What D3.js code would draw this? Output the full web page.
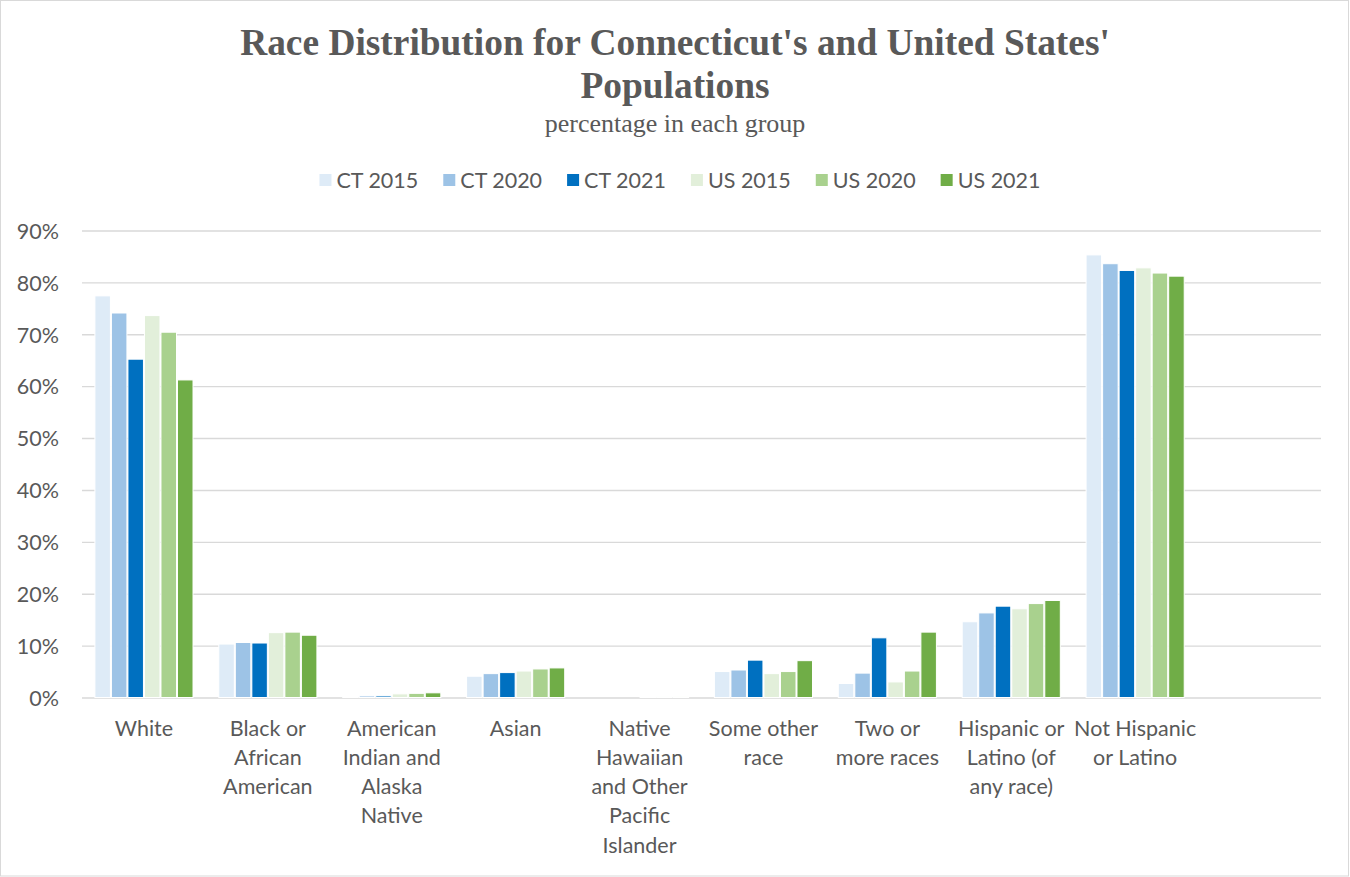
<!DOCTYPE html>
<html>
<head>
<meta charset="utf-8">
<script src="https://cdn.jsdelivr.net/npm/d3@7"></script>
<style>
  html, body { margin: 0; padding: 0; background: #fff; }
  svg { display: block; }
</style>
</head>
<body>
<svg id="chart" width="1350" height="877"></svg>
<script>
// Race groups (line breaks mark how each axis label wraps); last slot is an empty category
const categories = [
  "White",
  "Black or\nAfrican\nAmerican",
  "American\nIndian and\nAlaska\nNative",
  "Asian",
  "Native\nHawaiian\nand Other\nPacific\nIslander",
  "Some other\nrace",
  "Two or\nmore races",
  "Hispanic or\nLatino (of\nany race)",
  "Not Hispanic\nor Latino",
  ""
];

const seriesNames = ["CT 2015", "CT 2020", "CT 2021", "US 2015", "US 2020", "US 2021"];
const seriesColors = ["#DEEBF7", "#9DC3E6", "#0070C0", "#E2EFDA", "#A9D18E", "#70AD47"];

// Percent of population, one array per series, in category order
const ct2015 = [77.4, 10.3, 0.2, 4.1, 0.0, 5.0, 2.7, 14.6, 85.3, null];
const ct2020 = [74.1, 10.6, 0.3, 4.6, 0.0, 5.3, 4.7, 16.3, 83.6, null];
const ct2021 = [65.2, 10.5, 0.3, 4.8, 0.0, 7.2, 11.5, 17.6, 82.3, null];
const us2015 = [73.6, 12.5, 0.7, 5.1, 0.1, 4.6, 3.0, 17.1, 82.8, null];
const us2020 = [70.4, 12.6, 0.8, 5.5, 0.1, 5.0, 5.1, 18.1, 81.8, null];
const us2021 = [61.2, 12.0, 0.9, 5.7, 0.1, 7.1, 12.6, 18.7, 81.2, null];
const seriesValues = [ct2015, ct2020, ct2021, us2015, us2020, us2021];

const yTicks = [0, 10, 20, 30, 40, 50, 60, 70, 80, 90];

const titleLines = ["Race Distribution for Connecticut's and United States'", "Populations"];
const subtitle = "percentage in each group";

const W = 1350, H = 877;
const plot = { left: 82, right: 1321, top: 230.5, bottom: 697.5 };
const textColor = "#595959";
const sansFont = "Lato, 'Open Sans', sans-serif";
const serifFont = "'Liberation Serif', 'DejaVu Serif', serif";

const svg = d3.select("#chart");

// outer frame
svg.append("rect")
  .attr("x", 0.5).attr("y", 0.5)
  .attr("width", W - 2).attr("height", H - 1.5)
  .attr("fill", "#fff").attr("stroke", "#d9d9d9").attr("stroke-width", 1);

// titles
const title = svg.append("text")
  .attr("text-anchor", "middle")
  .attr("font-family", serifFont)
  .attr("font-weight", "bold")
  .attr("font-size", 37.4)
  .attr("fill", textColor);
titleLines.forEach((t, i) => {
  title.append("tspan").attr("x", 675).attr("y", 55 + i * 43).text(t);
});
svg.append("text")
  .attr("x", 675).attr("y", 132)
  .attr("text-anchor", "middle")
  .attr("font-family", serifFont)
  .attr("font-size", 26)
  .attr("fill", textColor)
  .text(subtitle);

// scales
const x = d3.scaleBand().domain(d3.range(categories.length))
  .range([plot.left, plot.right]).padding(0);
const barW = x.bandwidth() / 7.5;
const xs = d3.scaleBand().domain(d3.range(seriesNames.length))
  .range([barW * 0.75, x.bandwidth() - barW * 0.75]).padding(0);
const y = d3.scaleLinear().domain([0, 90]).range([plot.bottom, plot.top]);

// gridlines and percent labels
const yAxis = d3.axisLeft(y).tickValues(yTicks)
  .tickSize(-(plot.right - plot.left)).tickPadding(23)
  .tickFormat(d => d + "%");
const gy = svg.append("g")
  .attr("transform", `translate(${plot.left},0)`)
  .call(yAxis);
gy.select(".domain").remove();
gy.selectAll(".tick line").attr("stroke", "#d9d9d9").attr("stroke-width", 1.4);
gy.selectAll(".tick text")
  .attr("font-family", sansFont).attr("font-size", 21.5)
  .attr("fill", textColor).attr("dy", "0.36em");

// bars
const groups = svg.append("g").selectAll("g")
  .data(seriesValues)
  .join("g")
  .attr("fill", (d, i) => seriesColors[i]);
groups.each(function (vals, si) {
  d3.select(this).selectAll("rect")
    .data(vals.map((v, ci) => ({ v, ci })).filter(d => d.v !== null && d.v > 0))
    .join("rect")
    .attr("x", d => x(d.ci) + xs(si) + 0.5)
    .attr("width", xs.bandwidth() - 1)
    .attr("y", d => y(d.v))
    .attr("height", d => y(0) - y(d.v))
    .attr("stroke", "#fff")
    .attr("stroke-width", 1);
});

// category labels
const xAxis = d3.axisBottom(x).tickSize(0).tickFormat(() => "");
const gx = svg.append("g")
  .attr("transform", `translate(0,${plot.bottom})`)
  .call(xAxis);
gx.select(".domain").remove();
gx.selectAll(".tick").each(function (ci) {
  const lines = categories[ci].split("\n");
  const t = d3.select(this).append("text")
    .attr("text-anchor", "middle")
    .attr("font-family", sansFont).attr("font-size", 21.5)
    .attr("fill", textColor);
  lines.forEach((ln, li) => {
    t.append("tspan").attr("x", 0).attr("y", 38 + li * 29.3).text(ln);
  });
});

// legend
const legend = svg.append("g");
const items = legend.selectAll("g").data(seriesNames).join("g");
items.append("rect")
  .attr("width", 12).attr("height", 12)
  .attr("y", -6)
  .attr("fill", (d, i) => seriesColors[i]);
items.append("text")
  .attr("x", 17).attr("y", 0).attr("dy", "0.35em")
  .attr("font-family", sansFont).attr("font-size", 21.5)
  .attr("fill", textColor)
  .text(d => d);
const gap = 25;
let cx = 0;
items.each(function () {
  const w = this.getBBox().width;
  d3.select(this).attr("transform", `translate(${cx},180)`);
  cx += w + gap;
});
const total = cx - gap;
legend.attr("transform", `translate(${680 - total / 2},0)`);
</script>
</body>
</html>
